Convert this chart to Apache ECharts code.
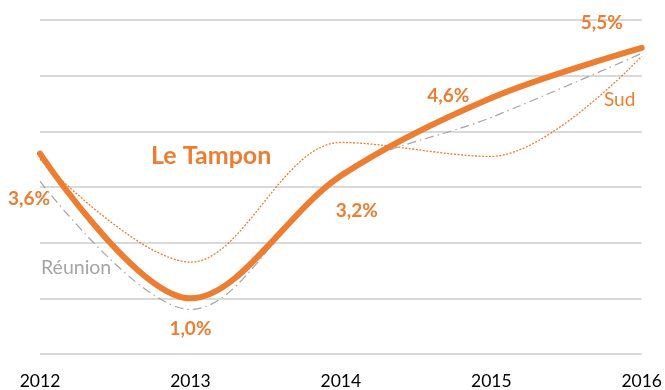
<!DOCTYPE html>
<html>
<head>
<meta charset="utf-8">
<script src="https://cdn.jsdelivr.net/npm/echarts@6/dist/echarts.min.js"></script>
<style>
  html, body { margin: 0; padding: 0; background: #fff; }
  #chart { width: 665px; height: 390px; }
</style>
</head>
<body>
<div id="chart"></div>
<script>
// Annual growth (%) by year
const years = ['2012', '2013', '2014', '2015', '2016'];
const tampon = [3.6, 1.0, 3.2, 4.6, 5.5];
const sud = [3.5, 1.65, 3.8, 3.55, 5.35];
const reunion = [3.1, 0.8, 3.25, 4.25, 5.4];

const ORANGE = '#ED7D31';
const GREY = '#A5A5A5';
const FONT = 'Lato, "Open Sans", sans-serif';
const SMOOTH = 0.34;

// label offsets for the Le Tampon values
const labelOffsets = [[-11, 45], [0, 31], [16, 35], [-43, -2], [-40, -25]];

const fmt = v => v.toFixed(1).replace('.', ',') + '%';

const chart = echarts.init(document.getElementById('chart'));
chart.setOption({
  animation: false,
  grid: { left: 40, right: 21, top: 20, bottom: 36 },
  xAxis: {
    type: 'category',
    data: years,
    boundaryGap: false,
    axisLine: { show: false },
    axisTick: { show: false },
    axisLabel: { color: '#000', fontSize: 17.5, fontFamily: FONT, margin: 18 }
  },
  yAxis: {
    type: 'value',
    min: 0, max: 6, interval: 1,
    axisLabel: { show: false },
    axisLine: { show: false },
    axisTick: { show: false },
    splitLine: { lineStyle: { color: '#D9D9D9', width: 2 } }
  },
  series: [
    {
      name: 'Réunion', type: 'line', data: reunion, smooth: SMOOTH,
      symbol: 'none', z: 2,
      lineStyle: { color: GREY, width: 1.2, type: [9, 4, 1.5, 4] }
    },
    {
      name: 'Sud', type: 'line', data: sud, smooth: SMOOTH,
      symbol: 'none', z: 3,
      lineStyle: { color: ORANGE, width: 1.3, type: [2, 1.5] }
    },
    {
      name: 'Le Tampon', type: 'line', smooth: SMOOTH, z: 5,
      symbol: 'circle', symbolSize: 1, showSymbol: true,
      itemStyle: { color: 'rgba(0,0,0,0)' },
      lineStyle: { color: ORANGE, width: 6, cap: 'round' },
      data: tampon.map((v, i) => ({
        value: v,
        label: {
          show: true, position: 'inside', offset: labelOffsets[i],
          formatter: () => fmt(v),
          color: ORANGE, fontSize: 19, fontWeight: 'bold', fontFamily: FONT
        }
      }))
    }
  ],
  graphic: [
    { type: 'text', left: 151, top: 143, style: { text: 'Le Tampon', fill: ORANGE, font: 'bold 25px ' + FONT } },
    { type: 'text', left: 604, top: 90, style: { text: 'Sud', fill: ORANGE, font: '19px ' + FONT } },
    { type: 'text', left: 41, top: 258, style: { text: 'Réunion', fill: GREY, font: '19.5px ' + FONT } }
  ]
});
</script>
</body>
</html>
